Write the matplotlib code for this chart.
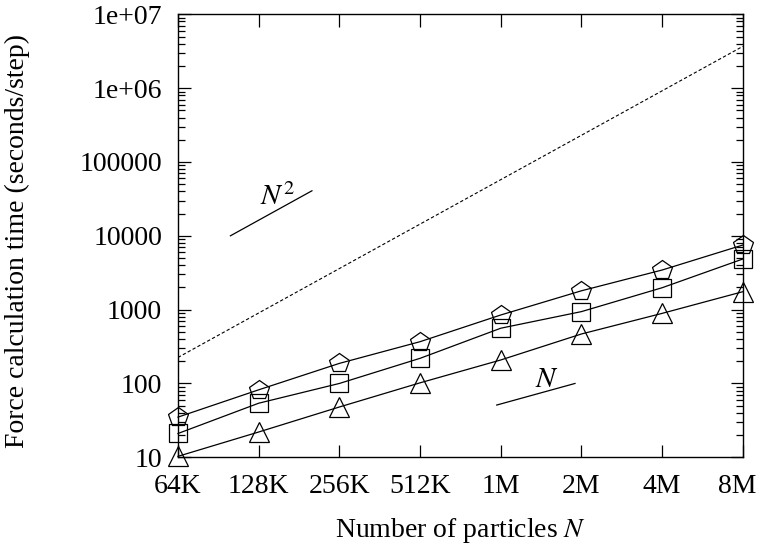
import numpy as np
import matplotlib.pyplot as plt
import matplotlib.transforms as mtransforms
from matplotlib.ticker import FixedLocator, LogLocator, NullFormatter

plt.rcParams['font.family'] = ['Liberation Serif', 'DejaVu Serif']
plt.rcParams['mathtext.fontset'] = 'stix'

# particle counts (categorical, each step doubles N)
sizes = ['64K', '128K', '256K', '512K', '1M', '2M', '4M', '8M']

# force calculation time (seconds/step)
pentagon = [35, 82, 187, 368, 846, 1800, 3440, 7500]
square = [21, 54, 100, 219, 560, 940, 1980, 4850]
triangle = [10.3, 22, 48, 102, 208, 468, 890, 1750]
direct = [225, 900, 3600, 14400, 57600, 230000, 920000, 3680000]

# slope guides
n2_x = [0.65, 1.66]
n2_y = [10000, 40700]
n1_x = [3.95, 4.92]
n1_y = [51, 100]

yticks = [10, 100, 1000, 10000, 100000, 1e6, 1e7]
ylabels = ['10', '100', '1000', '10000', '100000', '1e+06', '1e+07']

fig = plt.figure(figsize=(7.58, 5.44), dpi=100)
ax = fig.add_axes([0.2348, 0.1594, 0.7452, 0.8143])

x = np.arange(len(sizes))
lw = 0.9
ax.plot(x, direct, color='black', lw=0.8, ls=(0, (3, 2)))
ax.plot(x, pentagon, color='black', lw=lw, marker='p', ms=15, mfc='none', mec='black', mew=lw, clip_on=False)
ax.plot(x, square, color='black', lw=lw, marker='s', ms=13, mfc='none', mec='black', mew=lw, clip_on=False)
ax.plot(x, triangle, color='black', lw=lw, marker='^', ms=15, mfc='none', mec='black', mew=lw, clip_on=False)

ax.plot(n2_x, n2_y, color='black', lw=lw)
ax.plot(n1_x, n1_y, color='black', lw=lw)
ax.text(1.016, 26000, r'$N^2$', fontsize=21, ha='left', va='baseline')
ax.text(4.424, 90, r'$N$', fontsize=21, ha='left', va='baseline')

ax.set_yscale('log')
ax.set_xlim(0, len(sizes) - 1)
ax.set_ylim(10, 1e7)
ax.set_xticks(x)
ax.set_xticklabels(sizes)
ax.yaxis.set_major_locator(FixedLocator(yticks))
ax.set_yticklabels(ylabels)
ax.yaxis.set_minor_locator(LogLocator(base=10, subs=np.arange(2, 10)))
ax.yaxis.set_minor_formatter(NullFormatter())

ax.tick_params(which='both', direction='in', top=True, right=True, labelsize=20)
ax.tick_params(which='major', length=9, width=0.9)
ax.tick_params(which='minor', length=5, width=0.9)
ax.tick_params(axis='x', pad=12)
ax.tick_params(axis='y', pad=11.5)
for s in ax.spines.values():
    s.set_linewidth(1.0)

# keep the last x label inside the canvas
last = ax.get_xticklabels()[-1]
last.set_transform(last.get_transform() + mtransforms.ScaledTranslation(-6 / 100, 0, fig.dpi_scale_trans))

ax.set_xlabel(r'Number of particles $N$', fontsize=20, labelpad=12)
ax.set_ylabel('Force calculation time (seconds/step)', fontsize=20)
ax.yaxis.set_label_coords(-0.262, 0.489)

fig.savefig('out.png', dpi=100)
